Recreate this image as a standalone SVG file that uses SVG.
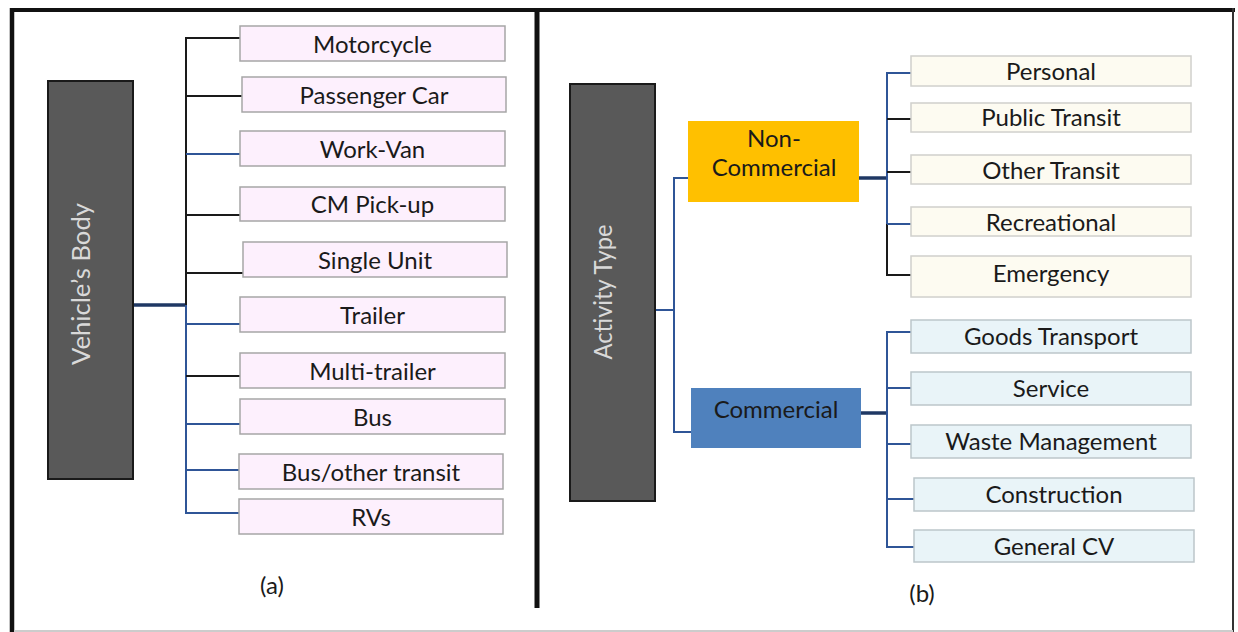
<svg xmlns="http://www.w3.org/2000/svg" width="1238" height="632" viewBox="0 0 1238 632">
<style>
text{font-family:Lato,"Liberation Sans",sans-serif;font-size:24px;fill:#1a1a1a;text-anchor:middle}
.root{fill:#595959;stroke:#1a1a1a;stroke-width:2}
.rootT{fill:#d9d9d9;font-size:25px}
.pk{fill:#fdf0fd;stroke:#a6a6a6;stroke-width:1.5}
.cr{fill:#fdfbf1;stroke:#d0d0cc;stroke-width:1.5}
.lb{fill:#e9f4f8;stroke:#bcc6ca;stroke-width:1.5}
.ln{fill:none;stroke-width:2}
.k{stroke:#1a1a1a}
.b{stroke:#2f5597}
.tk{stroke:#1f3864;stroke-width:3.5}
</style>
<rect width="1238" height="632" fill="#ffffff"/>
<g id="frame" fill="none">
<line x1="10" y1="10" x2="1235" y2="10" stroke="#111" stroke-width="4"/>
<line x1="12" y1="8" x2="12" y2="632" stroke="#111" stroke-width="4.5"/>
<line x1="537" y1="8" x2="537" y2="608" stroke="#111" stroke-width="5"/>
<line x1="1233" y1="8" x2="1233" y2="632" stroke="#333" stroke-width="2"/>
<line x1="14" y1="631" x2="1233" y2="631" stroke="#cccccc" stroke-width="2"/>
</g>
<g id="connectors">
<line class="ln tk" x1="133" y1="305" x2="186" y2="305"/>
<line class="ln k" x1="186" y1="37" x2="186" y2="305"/>
<line class="ln b" x1="186" y1="305" x2="186" y2="514"/>
<line class="ln k" x1="186" y1="38" x2="240" y2="38"/>
<line class="ln k" x1="186" y1="96" x2="242" y2="96"/>
<line class="ln b" x1="186" y1="154" x2="240" y2="154"/>
<line class="ln k" x1="186" y1="215" x2="240" y2="215"/>
<line class="ln k" x1="186" y1="273" x2="243" y2="273"/>
<line class="ln b" x1="186" y1="324" x2="240" y2="324"/>
<line class="ln k" x1="186" y1="376" x2="240" y2="376"/>
<line class="ln b" x1="186" y1="424" x2="240" y2="424"/>
<line class="ln b" x1="186" y1="470" x2="239" y2="470"/>
<line class="ln b" x1="186" y1="513" x2="239" y2="513"/>
<line class="ln b" x1="655" y1="310" x2="674" y2="310"/>
<line class="ln b" x1="674" y1="177" x2="674" y2="433"/>
<line class="ln b" x1="674" y1="178" x2="688" y2="178"/>
<line class="ln b" x1="674" y1="432" x2="691" y2="432"/>
<line class="ln tk" x1="859" y1="178" x2="887" y2="178"/>
<line class="ln b" x1="887" y1="72" x2="887" y2="224"/>
<line class="ln k" x1="887" y1="224" x2="887" y2="276"/>
<line class="ln b" x1="887" y1="73" x2="911" y2="73"/>
<line class="ln k" x1="887" y1="119" x2="911" y2="119"/>
<line class="ln k" x1="887" y1="172" x2="911" y2="172"/>
<line class="ln b" x1="887" y1="224" x2="911" y2="224"/>
<line class="ln k" x1="887" y1="275" x2="911" y2="275"/>
<line class="ln tk" x1="861" y1="413" x2="887" y2="413"/>
<line class="ln b" x1="887" y1="331" x2="887" y2="548"/>
<line class="ln b" x1="887" y1="332" x2="911" y2="332"/>
<line class="ln b" x1="887" y1="388" x2="911" y2="388"/>
<line class="ln b" x1="887" y1="444" x2="911" y2="444"/>
<line class="ln b" x1="887" y1="499" x2="914" y2="499"/>
<line class="ln b" x1="887" y1="547" x2="914" y2="547"/>
</g>
<g id="vehicles-body"><rect class="root" x="48" y="81" width="85" height="398"/><text class="rootT" transform="translate(90,284) rotate(-90)" textLength="162" lengthAdjust="spacingAndGlyphs">Vehicle’s Body</text></g>
<g id="motorcycle"><rect class="pk" x="240" y="26" width="265" height="35"/><text x="372.5" y="52.5">Motorcycle</text></g>
<g id="passenger-car"><rect class="pk" x="242" y="77" width="264" height="35"/><text x="374" y="103.5">Passenger Car</text></g>
<g id="work-van"><rect class="pk" x="240" y="131" width="265" height="35"/><text x="372.5" y="157.5">Work-Van</text></g>
<g id="cm-pickup"><rect class="pk" x="240" y="187" width="265" height="34"/><text x="372.5" y="213">CM Pick-up</text></g>
<g id="single-unit"><rect class="pk" x="243" y="242" width="264" height="35"/><text x="375" y="268.5">Single Unit</text></g>
<g id="trailer"><rect class="pk" x="240" y="297" width="265" height="35"/><text x="372.5" y="323.5">Trailer</text></g>
<g id="multi-trailer"><rect class="pk" x="240" y="353" width="265" height="35"/><text x="372.5" y="379.5">Multi-trailer</text></g>
<g id="bus"><rect class="pk" x="240" y="399" width="265" height="35"/><text x="372.5" y="425.5">Bus</text></g>
<g id="bus-other-transit"><rect class="pk" x="239" y="454" width="264" height="35"/><text x="371" y="480.5">Bus/other transit</text></g>
<g id="rvs"><rect class="pk" x="239" y="499" width="264" height="35"/><text x="371" y="525.5">RVs</text></g>
<g id="label-a"><text x="272" y="594">(a)</text></g>
<g id="activity-type"><rect class="root" x="570" y="84" width="85" height="417"/><text class="rootT" transform="translate(612,292) rotate(-90)" textLength="135" lengthAdjust="spacingAndGlyphs">Activity Type</text></g>
<g id="non-commercial"><rect x="688" y="121" width="171" height="81" fill="#ffc000"/><text x="774" y="147">Non-</text><text x="774" y="176">Commercial</text></g>
<g id="commercial"><rect x="691" y="388" width="170" height="60" fill="#4f81bd"/><text x="776" y="418" fill="#0d1b2e">Commercial</text></g>
<g id="personal"><rect class="cr" x="911" y="56" width="280" height="30"/><text x="1051" y="80">Personal</text></g>
<g id="public-transit"><rect class="cr" x="911" y="103" width="280" height="29"/><text x="1051" y="126">Public Transit</text></g>
<g id="other-transit"><rect class="cr" x="911" y="155" width="280" height="29"/><text x="1051" y="178.5">Other Transit</text></g>
<g id="recreational"><rect class="cr" x="911" y="207" width="280" height="29"/><text x="1051" y="230.5">Recreational</text></g>
<g id="emergency"><rect class="cr" x="911" y="256" width="280" height="41"/><text x="1051" y="282">Emergency</text></g>
<g id="goods-transport"><rect class="lb" x="911" y="320" width="280" height="33"/><text x="1051" y="345">Goods Transport</text></g>
<g id="service"><rect class="lb" x="911" y="372" width="280" height="33"/><text x="1051" y="397">Service</text></g>
<g id="waste-management"><rect class="lb" x="911" y="425" width="280" height="33"/><text x="1051" y="450">Waste Management</text></g>
<g id="construction"><rect class="lb" x="914" y="478" width="280" height="33"/><text x="1054" y="503">Construction</text></g>
<g id="general-cv"><rect class="lb" x="914" y="530" width="280" height="32"/><text x="1054" y="555">General CV</text></g>
<g id="label-b"><text x="922" y="602">(b)</text></g>
</svg>
